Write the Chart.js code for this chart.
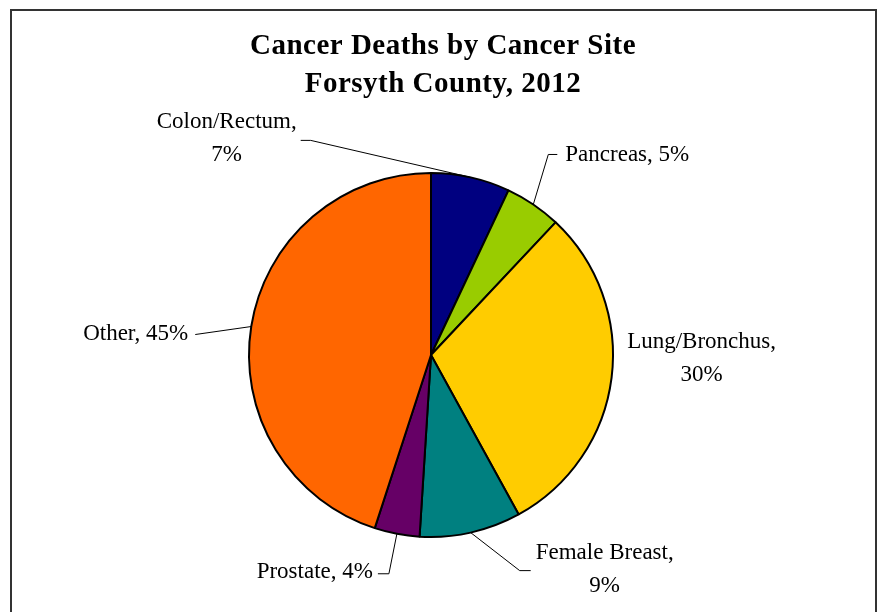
<!DOCTYPE html>
<html>
<head>
<meta charset="utf-8">
<title>Cancer Deaths by Cancer Site</title>
<script src="https://cdn.jsdelivr.net/npm/chart.js@4.4.1/dist/chart.umd.min.js"></script>
<style>
    body { margin: 0; background: #fff; }
</style>
</head>
<body>
<canvas id="chartPie" width="881" height="612"></canvas>
<script>
var siteNames = ['Colon/Rectum', 'Pancreas', 'Lung/Bronchus', 'Female Breast', 'Prostate', 'Other'];
var sitePercent = [7, 5, 30, 9, 4, 45];
var siteColors = ['#000080', '#99CC00', '#FFCC00', '#008080', '#660066', '#FF6600'];
var titleLines = ['Cancer Deaths by Cancer Site', 'Forsyth County, 2012'];

// label spot for each slice, measured from the middle of the slice's outer edge
// leader = points the connector passes through before reaching the slice
var labelLayout = [
    { align: 'center', split: true, dx: -244, dy: -55, leader: [[-170, -37], [-160, -37]] },
    { align: 'left', split: false, dx: 32, dy: -50, leader: [[24, -50], [15, -50]] },
    { align: 'center', split: true, dx: 90, dy: -36, leader: null },
    { align: 'center', split: true, dx: 134, dy: 20, leader: [[60, 38], [49, 38]] },
    { align: 'right', split: false, dx: -24, dy: 38, leader: [[-19, 40], [-8, 40]] },
    { align: 'right', split: false, dx: -63, dy: 7, leader: [[-56, 8]] }
];

var serif = '"Liberation Serif", "Times New Roman", serif';

var pieDecor = {
    id: 'pieDecor',
    beforeDraw: function (chart) {
        var ctx = chart.ctx;
        ctx.save();
        // outer frame
        ctx.strokeStyle = '#333';
        ctx.lineWidth = 2;
        ctx.strokeRect(11, 10, 865, 700);

        // title
        ctx.fillStyle = '#000';
        ctx.font = 'bold 29px ' + serif;
        ctx.letterSpacing = '0.5px';
        ctx.textAlign = 'center';
        ctx.textBaseline = 'middle';
        ctx.fillText(titleLines[0], 443, 47);
        ctx.fillText(titleLines[1], 443, 85);
        ctx.restore();
    },
    afterDatasetsDraw: function (chart) {
        var ctx = chart.ctx;
        var meta = chart.getDatasetMeta(0);
        ctx.save();
        ctx.font = '23px ' + serif;
        ctx.fillStyle = '#000';
        ctx.strokeStyle = '#000';
        ctx.lineWidth = 1;
        ctx.textBaseline = 'middle';

        meta.data.forEach(function (arc, i) {
            var p = arc.getProps(['x', 'y', 'startAngle', 'endAngle', 'outerRadius'], true);
            var mid = (p.startAngle + p.endAngle) / 2;
            var ax = p.x + Math.cos(mid) * p.outerRadius;
            var ay = p.y + Math.sin(mid) * p.outerRadius;
            var lay = labelLayout[i];

            if (lay.leader) {
                ctx.beginPath();
                ctx.moveTo(ax + lay.leader[0][0], ay + lay.leader[0][1]);
                for (var k = 1; k < lay.leader.length; k++) {
                    ctx.lineTo(ax + lay.leader[k][0], ay + lay.leader[k][1]);
                }
                ctx.lineTo(ax, ay);
                ctx.stroke();
            }

            var lines;
            if (lay.split) {
                lines = [siteNames[i] + ',', sitePercent[i] + '%'];
            } else {
                lines = [siteNames[i] + ', ' + sitePercent[i] + '%'];
            }
            ctx.textAlign = lay.align;
            for (var j = 0; j < lines.length; j++) {
                ctx.fillText(lines[j], ax + lay.dx, ay + lay.dy + j * 33);
            }
        });
        ctx.restore();
    }
};

var ctxpie = document.getElementById('chartPie');
var sitePie = new Chart(ctxpie, {
    type: 'pie',
    data: {
        labels: siteNames,
        datasets: [{
            data: sitePercent,
            backgroundColor: siteColors,
            borderColor: '#000',
            borderWidth: 2,
            radius: 182
        }]
    },
    options: {
        responsive: false,
        animation: false,
        layout: {
            padding: { top: 173, bottom: 75, left: 249, right: 268 }
        },
        plugins: {
            legend: { display: false },
            title: { display: false },
            tooltip: { enabled: false }
        }
    },
    plugins: [pieDecor]
});
</script>
</body>
</html>
